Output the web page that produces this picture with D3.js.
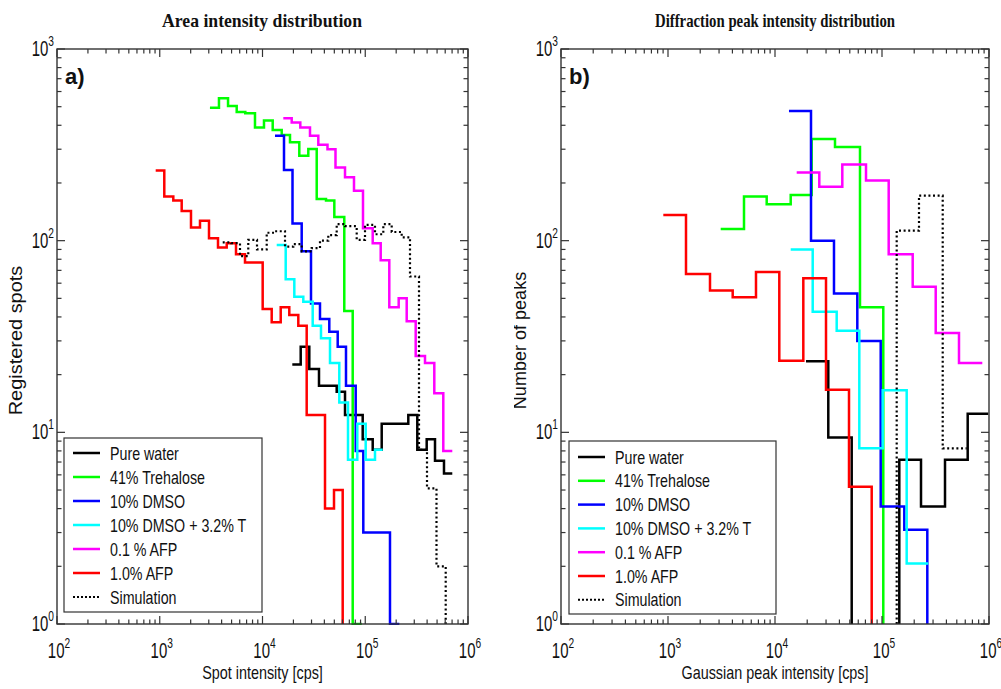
<!DOCTYPE html>
<html>
<head>
<meta charset="utf-8">
<script src="https://cdn.jsdelivr.net/npm/d3@7"></script>
<style>
  body { margin: 0; background: #fff; }
  svg { display: block; }
</style>
</head>
<body>
<svg id="fig" width="1001" height="689"></svg>
<script>
// ---- legend / series identity ----
const seriesNames = ["Pure water", "41% Trehalose", "10% DMSO", "10% DMSO + 3.2% T", "0.1 % AFP", "1.0% AFP", "Simulation"];
const seriesColors = ["#000000", "#00ff00", "#0000ff", "#00ffff", "#ff00ff", "#ff0000", "#000000"];
const seriesDotted = [false, false, false, false, false, false, true];

// ---- axis ticks (powers of ten) ----
const xTickExponents = [2, 3, 4, 5, 6];
const yTickExponents = [0, 1, 2, 3];

// ---- panel a: area intensity histograms (bin edges in cps, counts per bin) ----
const areaWaterEdges = [19500, 23540, 28540, 35470, 52740, 63540, 94450, 118200, 144600, 262400, 321000, 396300, 477400, 583900, 703300];
const areaWaterCounts = [22.6, 28, 21.4, 17.5, 16.3, 12.3, 9.2, 8.1, 11.1, 12.3, 8.1, 9.2, 7.1, 6.1];

const areaTrehaloseEdges = [3080, 3770, 4620, 5610, 6800, 8450, 10340, 12570, 15380, 18520, 22810, 27910, 33700, 41500, 50000, 62500, 75500, 92400];
const areaTrehaloseCounts = [494, 553, 504, 469, 462, 390, 423, 378, 356, 326, 277, 301, 165, 162, 133, 43, 1];

const areaDmsoEdges = [13230, 16190, 19590, 24070, 29650, 36270, 44680, 53940, 64960, 80750, 95720, 174100, 214500];
const areaDmsoCounts = [353, 234, 123, 88, 47, 39, 33.5, 28, 17.5, 8, 3, 1];

const areaDmsoTEdges = [13750, 16820, 20400, 24950, 30800, 37090, 45390, 55900, 67940, 83670, 101000, 124400, 147900];
const areaDmsoTCounts = [95, 63, 51, 48, 36, 31, 23, 14.3, 7.2, 11.1, 7.2, 8.1];

const areaAfp01Edges = [15940, 19240, 23330, 28990, 34930, 42910, 51340, 63540, 77710, 95080, 118200, 141400, 171400, 211600, 253200, 309700, 381500, 469900, 574800, 703300];
const areaAfp01Counts = [435, 414, 390, 353, 317, 300, 241, 214, 182, 116, 97, 79, 45, 50, 38, 25, 23, 16, 8];

const areaAfp10Edges = [913, 1107, 1355, 1635, 2014, 2464, 3015, 3689, 4484, 5523, 6756, 10040, 12290, 15040, 18230, 22310, 26920, 40580, 49650, 60320, 73130];
const areaAfp10Counts = [232, 170, 162, 143, 117, 127, 103, 92, 97, 85, 77, 44, 37.5, 45, 41, 36, 12.3, 4, 5, 0];

const areaSimEdges = [4100, 4970, 6040, 7270, 8840, 10990, 13230, 16560, 19940, 24070, 30110, 36270, 43690, 52740, 63540, 82560, 99450, 124400, 149900, 180900, 226300, 272600, 333500, 399000, 493600, 606700, 730500];
const areaSimCounts = [98, 97, 83, 101, 90, 110, 112, 93, 96, 88, 91.5, 100, 107, 122, 119, 101, 121, 108, 122, 111, 104, 65, 8.1, 5.1, 2, 0];

// ---- panel b: diffraction peak intensity histograms ----
const peakWaterEdges = [19490, 31480, 52100, 86950, 145100, 231500, 388000, 632300, 985100];
const peakWaterCounts = [23.5, 9.4, 0, 0, 7.2, 4.1, 7.2, 12.5];

const peakTrehaloseEdges = [3108, 5132, 8364, 14020, 22030, 36370, 62280, 102800, 170000];
const peakTrehaloseCounts = [115, 170, 155, 173, 339, 308, 45, 0];

const peakDmsoEdges = [13510, 21700, 35590, 58780, 97250, 161600, 265100, 440000];
const peakDmsoCounts = [475, 100, 53, 30, 4.1, 3.1, 0];

const peakDmsoTEdges = [14020, 22510, 37720, 61370, 101500, 170100, 270800];
const peakDmsoTCounts = [90, 42.6, 33.9, 8.25, 16.6, 2.07];

const peakAfp01Edges = [15950, 25940, 42560, 70880, 115500, 193600, 317700, 524300, 865800];
const peakAfp01Counts = [227, 191, 250, 206, 85, 57.5, 33, 23];

const peakAfp10Edges = [904, 1473, 2469, 4024, 6643, 10970, 18390, 29970, 49160, 80120, 131000];
const peakAfp10Counts = [136, 67, 55, 50.6, 68.6, 23.6, 63.6, 16.7, 5.2, 0];

const peakSimEdges = [83300, 137200, 221700, 369300, 618800];
const peakSimCounts = [0, 112.7, 171.6, 8.25];

// ---- figure layout ----
const svg = d3.select("#fig");
const plotTop = 49, plotBottom = 624;
const floorValue = 1;

const panels = [
  {
    title: "Area intensity distribution", letter: "a)",
    xLabel: "Spot intensity [cps]", yLabel: "Registered spots",
    left: 57, right: 468, titleX: 262, titleW: 200, yLabelX: 22, yLabelSx: 1.05, yLabelClip: null,
    legend: { x: 64, y: 438, w: 198, h: 174, row0: 453, rowStep: 24 },
    series: [
      [areaWaterEdges, areaWaterCounts], [areaTrehaloseEdges, areaTrehaloseCounts],
      [areaDmsoEdges, areaDmsoCounts], [areaDmsoTEdges, areaDmsoTCounts],
      [areaAfp01Edges, areaAfp01Counts], [areaAfp10Edges, areaAfp10Counts],
      [areaSimEdges, areaSimCounts]
    ]
  },
  {
    title: "Diffraction peak intensity distribution", letter: "b)",
    xLabel: "Gaussian peak intensity [cps]", yLabel: "Number of peaks",
    left: 561, right: 989, titleX: 775, titleW: 240, yLabelX: 526, yLabelSx: 0.95, yLabelClip: 514,
    legend: { x: 569, y: 441, w: 207, h: 173, row0: 457, rowStep: 23.8 },
    series: [
      [peakWaterEdges, peakWaterCounts], [peakTrehaloseEdges, peakTrehaloseCounts],
      [peakDmsoEdges, peakDmsoCounts], [peakDmsoTEdges, peakDmsoTCounts],
      [peakAfp01Edges, peakAfp01Counts], [peakAfp10Edges, peakAfp10Counts],
      [peakSimEdges, peakSimCounts]
    ]
  }
];

const sansFont = "'Liberation Sans', Arial, sans-serif";
const serifFont = "'Liberation Serif', 'Times New Roman', serif";

// horizontally condensed text, drawn through a scaled group
function condensed(parent, x, y, str, size, sx, anchor, rotate) {
  const g = parent.append("g")
    .attr("transform", `translate(${x},${y})` + (rotate ? ` rotate(${rotate})` : "") + ` scale(${sx},1)`);
  return g.append("text")
    .attr("x", 0).attr("y", 0)
    .attr("text-anchor", anchor || "start")
    .attr("font-family", sansFont)
    .attr("font-size", size)
    .attr("fill", "#111")
    .text(str);
}

function powerLabel(parent, x, y, exp, anchor) {
  const g = parent.append("g").attr("transform", `translate(${x},${y}) scale(0.68,1)`);
  const t = g.append("text")
    .attr("text-anchor", anchor)
    .attr("font-family", sansFont)
    .attr("font-size", 22)
    .attr("fill", "#111");
  t.append("tspan").text("10");
  t.append("tspan").attr("font-size", 15).attr("dy", -10).text(exp);
}

// stair path for a histogram; zero bins fall to the axis floor and break the trace
function stairPath(edges, counts, x, y) {
  let d = "";
  let open = false;
  counts.forEach((c, i) => {
    const x0 = x(edges[i]), x1 = x(edges[i + 1]);
    if (c <= 0) {
      if (open) { d += `V${y(floorValue)}`; open = false; }
      return;
    }
    const yy = y(c);
    if (!open) {
      if (i > 0 && counts[i - 1] <= 0) d += `M${x0},${y(floorValue)}V${yy}`;
      else d += `M${x0},${yy}`;
      open = true;
    } else {
      d += `V${yy}`;
    }
    d += `H${x1}`;
  });
  return d;
}

panels.forEach((p, pi) => {
  const x = d3.scaleLog().domain([1e2, 1e6]).range([p.left, p.right]);
  const y = d3.scaleLog().domain([1, 1e3]).range([plotBottom, plotTop]);
  const g = svg.append("g");

  // title
  g.append("text")
    .attr("x", p.titleX).attr("y", 27)
    .attr("text-anchor", "middle")
    .attr("font-family", serifFont)
    .attr("font-weight", "bold")
    .attr("font-size", 19.5)
    .attr("textLength", p.titleW)
    .attr("lengthAdjust", "spacingAndGlyphs")
    .attr("fill", "#111")
    .text(p.title);

  // clip region for the data
  const clipId = "clip" + pi;
  g.append("clipPath").attr("id", clipId)
    .append("rect")
    .attr("x", p.left).attr("y", plotTop - 2)
    .attr("width", p.right - p.left).attr("height", plotBottom - plotTop + 3);

  // histogram traces
  const traces = g.append("g").attr("clip-path", `url(#${clipId})`);
  p.series.forEach(([edges, counts], si) => {
    traces.append("path")
      .attr("d", stairPath(edges, counts, x, y))
      .attr("fill", "none")
      .attr("stroke", seriesColors[si])
      .attr("stroke-width", seriesDotted[si] ? 2.2 : 2.5)
      .attr("stroke-dasharray", seriesDotted[si] ? "2,2.6" : null)
      .attr("stroke-linejoin", "miter");
  });

  // axes box
  g.append("rect")
    .attr("x", p.left).attr("y", plotTop)
    .attr("width", p.right - p.left).attr("height", plotBottom - plotTop)
    .attr("fill", "none").attr("stroke", "#333").attr("stroke-width", 1.4);

  const tickG = g.append("g").attr("stroke", "#333").attr("stroke-width", 1.2);
  const isMajor = v => Math.abs(Math.log10(v) - Math.round(Math.log10(v))) < 1e-9;

  x.ticks().forEach(v => {
    const len = isMajor(v) ? 8 : 4.5;
    const xx = x(v);
    tickG.append("line").attr("x1", xx).attr("x2", xx).attr("y1", plotBottom).attr("y2", plotBottom - len);
    tickG.append("line").attr("x1", xx).attr("x2", xx).attr("y1", plotTop).attr("y2", plotTop + len);
  });
  y.ticks().forEach(v => {
    const len = isMajor(v) ? 8 : 4.5;
    const yy = y(v);
    tickG.append("line").attr("y1", yy).attr("y2", yy).attr("x1", p.left).attr("x2", p.left + len);
    tickG.append("line").attr("y1", yy).attr("y2", yy).attr("x1", p.right).attr("x2", p.right - len);
  });

  // tick labels
  xTickExponents.forEach(e => powerLabel(g, x(Math.pow(10, e)) + 2, plotBottom + 34, e, "middle"));
  yTickExponents.forEach(e => powerLabel(g, p.left - 3, y(Math.pow(10, e)) + 7, e, "end"));

  // axis titles
  condensed(g, (p.left + p.right) / 2, 679, p.xLabel, 18, 0.8, "middle");
  let yLabelHost = g;
  if (p.yLabelClip !== null) {
    const yClipId = "ylabclip" + pi;
    g.append("clipPath").attr("id", yClipId)
      .append("rect").attr("x", p.yLabelClip).attr("y", 0).attr("width", 40).attr("height", 689);
    yLabelHost = g.append("g").attr("clip-path", `url(#${yClipId})`);
  }
  condensed(yLabelHost, p.yLabelX, (plotTop + plotBottom) / 2 + 4, p.yLabel, 19, p.yLabelSx, "middle", -90);

  // panel letter
  g.append("text")
    .attr("x", p.left + 8).attr("y", 84)
    .attr("font-family", sansFont)
    .attr("font-weight", "bold")
    .attr("font-size", 22)
    .attr("fill", "#111")
    .text(p.letter);

  // legend
  const L = p.legend;
  const lg = g.append("g");
  lg.append("rect")
    .attr("x", L.x).attr("y", L.y).attr("width", L.w).attr("height", L.h)
    .attr("fill", "#fff").attr("stroke", "#333").attr("stroke-width", 1.2);
  seriesNames.forEach((name, si) => {
    const ry = L.row0 + si * L.rowStep;
    lg.append("line")
      .attr("x1", L.x + 9).attr("x2", L.x + 36)
      .attr("y1", ry).attr("y2", ry)
      .attr("stroke", seriesColors[si])
      .attr("stroke-width", seriesDotted[si] ? 2 : 2.5)
      .attr("stroke-dasharray", seriesDotted[si] ? "2,2" : null);
    condensed(lg, L.x + 46, ry + 6.5, name, 19, 0.75, "start");
  });
});
</script>
</body>
</html>
